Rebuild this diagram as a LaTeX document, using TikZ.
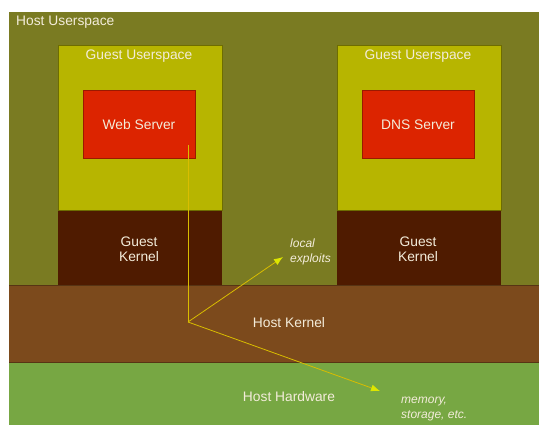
\documentclass[tikz,border=0pt]{standalone}
\usepackage{fontspec}
\setmainfont{Liberation Sans}
\usetikzlibrary{arrows.meta}
\definecolor{hostuser}{HTML}{7A7B22}
\definecolor{guestuser}{HTML}{B7B500}
\definecolor{guestkern}{HTML}{4F1B00}
\definecolor{appred}{HTML}{DC2400}
\definecolor{hostkern}{HTML}{7C4A1C}
\definecolor{hosthw}{HTML}{77A743}
\definecolor{labeltxt}{HTML}{F3ECDA}
\definecolor{pathline}{HTML}{D9BD00}
\definecolor{pathtip}{HTML}{DDE600}
\tikzset{
lbl/.style={text=labeltxt,font=\fontsize{13.8}{15}\selectfont,align=center,inner sep=0},
note/.style={text=labeltxt,font=\fontsize{12}{15}\selectfont\itshape,align=left,inner sep=0},
trail/.style={draw=pathline,line width=0.8pt},
exploit/.style={trail,-{Latex[length=9pt,width=7pt,color=pathtip]}}
}
\begin{document}
\begin{tikzpicture}[x=1pt,y=-1pt]
\useasboundingbox (0,0) rectangle (539,425);
\fill[white] (0,0) rectangle (539,425);
% layers
\fill[hostuser] (9,12) rectangle (539,285);
\fill[hostkern] (9,285) rectangle (539,362);
\fill[hosthw] (9,362) rectangle (539,425);
\draw[hostkern!70!black,line width=0.6pt] (9,285) -- (539,285);
\draw[hostkern!70!black,line width=0.6pt] (9,362) -- (539,362);
% guests
\foreach \x in {58,337}
{
\fill[guestuser] (\x,45) rectangle (\x+164,210);
\fill[guestkern] (\x,210) rectangle (\x+164,285);
\draw[guestuser!60!black,line width=0.4pt] (\x,45) rectangle (\x+164,210);
\fill[appred] (\x+25,90) rectangle (\x+137,158);
\draw[appred!70!black,line width=0.4pt] (\x+25,90) rectangle (\x+137,158);
}
\node[lbl,anchor=west] (hu) at (16,22) {Host Userspace};
\node[lbl] (gu1) at (139,56) {Guest Userspace};
\node[lbl] (gu2) at (418,56) {Guest Userspace};
\node[lbl] (web) at (139,125) {Web Server};
\node[lbl] (dns) at (418,125) {DNS Server};
\node[lbl] (gk1) at (139,249) {Guest\\Kernel};
\node[lbl] (gk2) at (418,249) {Guest\\Kernel};
\node[lbl] (hk) at (289,323) {Host Kernel};
\node[lbl] (hw) at (289,397) {Host Hardware};
\node[note,anchor=west] (loc) at (290,252) {local\\exploits};
\node[note,anchor=west] (mem) at (401,409) {memory,\\storage, etc.};
% exploit paths
\coordinate (start) at (188,145);
\coordinate (hub) at (188,322);
\coordinate (loctip) at (283,257);
\coordinate (memtip) at (380,391);
\draw[trail] (start) -- (hub);
\draw[exploit] (hub) -- (loctip);
\draw[exploit] (hub) -- (memtip);
\end{tikzpicture}
\end{document}
